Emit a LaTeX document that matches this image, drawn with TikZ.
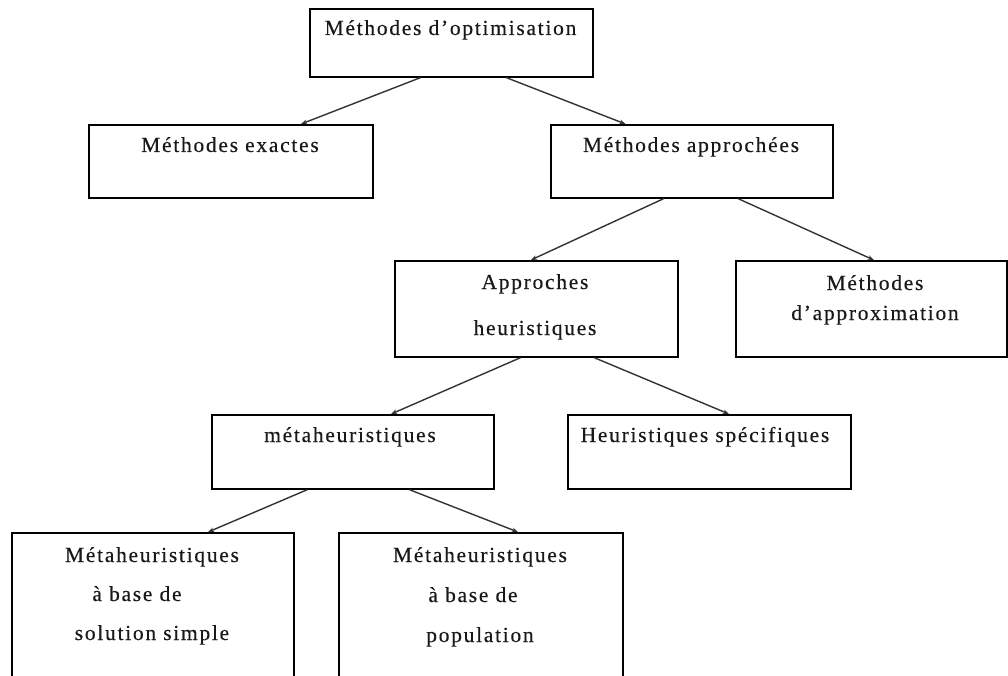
\documentclass[tikz,border=0pt]{standalone}
\usepackage{fontspec}
\setmainfont{Liberation Serif}[LetterSpace=8,FakeBold=0.3]
\usetikzlibrary{arrows.meta,calc}
\begin{document}
\begin{tikzpicture}[x=1pt,y=-1pt,
  box/.style={draw=black, line width=1.6pt, fill=white, inner sep=0pt, anchor=north west},
  lbl/.style={anchor=base, inner sep=0pt, text=black!90, font=\fontsize{21.5}{30}\selectfont},
  arr/.style={draw=black!80, line width=1.4pt, -{Stealth[length=6pt,width=4.5pt]}}]
\useasboundingbox (0,0) rectangle (1008,676);
\clip (0,0) rectangle (1008,676);
% boxes
\node[box, minimum width=283pt, minimum height=68pt] (opt) at (309,8) {};
\node[box, minimum width=284pt, minimum height=73pt] (ex) at (88,124) {};
\node[box, minimum width=282pt, minimum height=73pt] (ap) at (550,124) {};
\node[box, minimum width=283pt, minimum height=96pt] (he) at (394,260) {};
\node[box, minimum width=271pt, minimum height=96pt] (ax) at (735,260) {};
\node[box, minimum width=282pt, minimum height=74pt] (me) at (211,414) {};
\node[box, minimum width=283pt, minimum height=74pt] (hs) at (567,414) {};
\node[box, minimum width=282pt, minimum height=170pt] (bl) at (11,532) {};
\node[box, minimum width=284pt, minimum height=170pt] (br) at (338,532) {};
% texts
\node[lbl] (optT) at (450.5,35) {Méthodes d’optimisation};
\node[lbl] (exT) at (230,152) {Méthodes exactes};
\node[lbl] (apT) at (691,152) {Méthodes approchées};
\node[lbl, font=\fontsize{21.5}{46}\selectfont] (heT) at (535,289)
  {\begin{tabular}[t]{@{}c@{}}Approches\\heuristiques\end{tabular}};
\node[lbl] (axT) at (875,290)
  {\begin{tabular}[t]{@{}c@{}}Méthodes\\d’approximation\end{tabular}};
\node[lbl] (meT) at (350,442) {métaheuristiques};
\node[lbl] (hsT) at (705,442) {Heuristiques spécifiques};
\node[lbl, font=\fontsize{21.5}{39}\selectfont] (blT) at (152,562)
  {\begin{tabular}[t]{@{}c@{}}Métaheuristiques\\à base de\hspace*{30pt}\\solution simple\end{tabular}};
\node[lbl, font=\fontsize{21.5}{40}\selectfont] (brT) at (480,562)
  {\begin{tabular}[t]{@{}c@{}}Métaheuristiques\\à base de\hspace*{14pt}\\population\end{tabular}};
% connectors
\draw[arr] ($(opt.south west)!.392!(opt.south east)$) -- ($(ex.north west)!.746!(ex.north east)$);
\draw[arr] ($(opt.south west)!.693!(opt.south east)$) -- ($(ap.north west)!.266!(ap.north east)$);
\draw[arr] ($(ap.south west)!.401!(ap.south east)$) -- ($(he.north west)!.481!(he.north east)$);
\draw[arr] ($(ap.south west)!.663!(ap.south east)$) -- ($(ax.north west)!.509!(ax.north east)$);
\draw[arr] ($(he.south west)!.445!(he.south east)$) -- ($(me.north west)!.635!(me.north east)$);
\draw[arr] ($(he.south west)!.703!(he.south east)$) -- ($(hs.north west)!.569!(hs.north east)$);
\draw[arr] ($(me.south west)!.340!(me.south east)$) -- ($(bl.north west)!.695!(bl.north east)$);
\draw[arr] ($(me.south west)!.699!(me.south east)$) -- ($(br.north west)!.630!(br.north east)$);
\end{tikzpicture}
\end{document}
